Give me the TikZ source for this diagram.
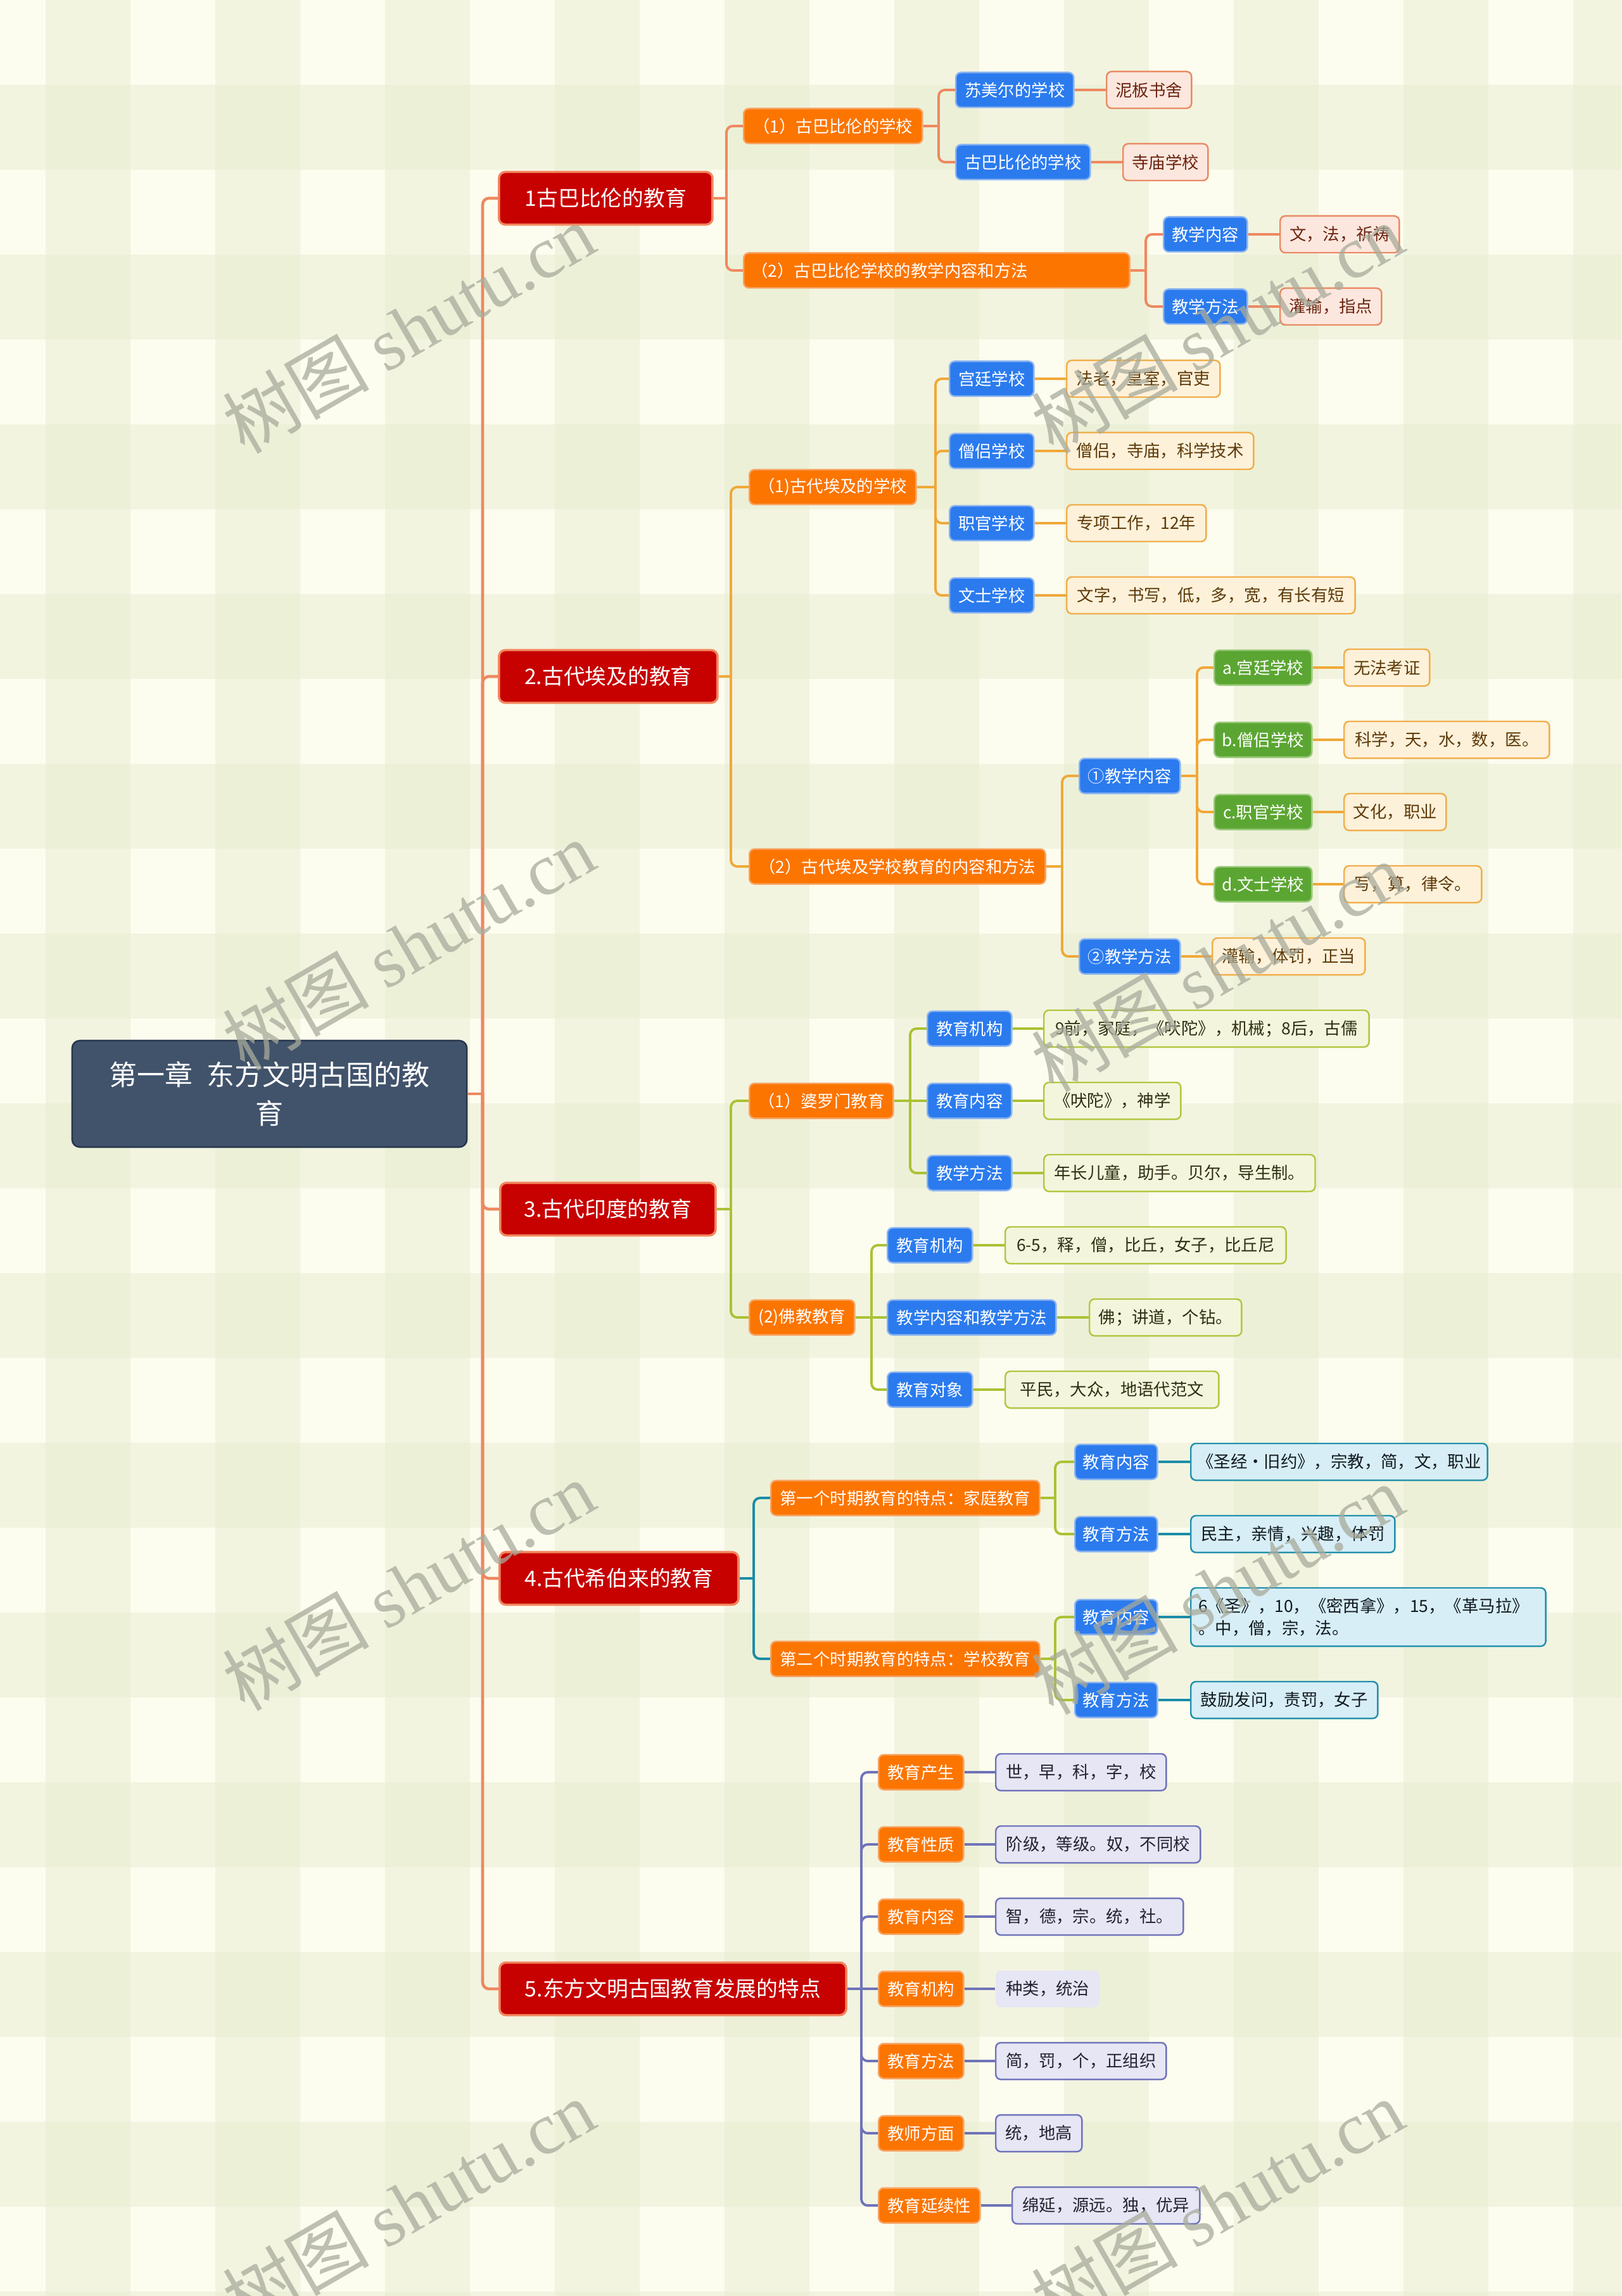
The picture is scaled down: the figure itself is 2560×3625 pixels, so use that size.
\documentclass[tikz,border=0pt]{standalone}
\usepackage{fontspec}
\setmainfont{Noto Sans CJK SC}
\newfontfamily\cjk{Noto Sans CJK SC}
\newfontfamily\wmserif{Liberation Serif}
\definecolor{bgcream}{HTML}{FCFCEF}
\definecolor{bggreen}{HTML}{E4EACB}
\definecolor{rootfill}{HTML}{41536B}
\definecolor{rootline}{HTML}{26354B}
\definecolor{lonefill}{HTML}{C70000}
\definecolor{loneline}{HTML}{F2865E}
\definecolor{orfill}{HTML}{FC7500}
\definecolor{orline}{HTML}{F7A463}
\definecolor{blfill}{HTML}{2B7BEE}
\definecolor{blline}{HTML}{8DB4F0}
\definecolor{grfill}{HTML}{5BA632}
\definecolor{grline}{HTML}{9CCB7C}
\definecolor{babfill}{HTML}{FCE7DE}
\definecolor{babline}{HTML}{E98A63}
\definecolor{babtext}{HTML}{6B2410}
\definecolor{egyfill}{HTML}{FDF1DA}
\definecolor{egyline}{HTML}{F1AE4A}
\definecolor{egytext}{HTML}{5E3A08}
\definecolor{indfill}{HTML}{F3F6DC}
\definecolor{indline}{HTML}{B2C640}
\definecolor{indtext}{HTML}{2E2E12}
\definecolor{hebfill}{HTML}{D7EEF6}
\definecolor{hebline}{HTML}{2290AC}
\definecolor{hebtext}{HTML}{111A20}
\definecolor{eastfill}{HTML}{E6E6F4}
\definecolor{eastline}{HTML}{7074BA}
\definecolor{easttext}{HTML}{222233}
\definecolor{cbabc}{HTML}{EE8860}
\definecolor{cegyc}{HTML}{F0A838}
\definecolor{cindc}{HTML}{ABC233}
\definecolor{chebc}{HTML}{1C8CA8}
\definecolor{ceastc}{HTML}{6F73B8}
\definecolor{wmgray}{HTML}{A8AB9B}
\newcommand\fsroot{\fontsize{12.5pt}{17.4pt}\selectfont}
\newcommand\fsmid{\fontsize{9.6pt}{11pt}\selectfont}
\newcommand\fssmall{\fontsize{7.5pt}{10pt}\selectfont}
\newcommand\fswm{\fontsize{33pt}{38pt}\selectfont}
\tikzset{
  bx/.style={anchor=west, rounded corners=0.08cm, inner xsep=0.1cm, inner ysep=0pt, line width=0.7pt, font=\cjk\fssmall},
  rootbox/.style={bx, anchor=center, fill=rootfill, draw=rootline, text=white, font=\cjk\fsroot, rounded corners=0.12cm, minimum width=6.23cm, minimum height=1.68cm, align=center},
  lonebox/.style={bx, minimum width=#1, minimum height=0.83cm, fill=lonefill, draw=loneline, line width=1pt, text=white, font=\cjk\fsmid, rounded corners=0.1cm},
  ltwobox/.style={bx, minimum width=#1, minimum height=0.55cm, fill=orfill, draw=orline, text=white},
  bluebox/.style={bx, minimum width=#1, minimum height=0.55cm, fill=blfill, draw=blline, text=white},
  greenbox/.style={bx, minimum width=#1, minimum height=0.55cm, fill=grfill, draw=grline, text=white},
  leaf/.style={bx, minimum width=#1, minimum height=0.58cm},
  leafbab/.style={leaf=#1, fill=babfill, draw=babline, text=babtext},
  leafegy/.style={leaf=#1, fill=egyfill, draw=egyline, text=egytext},
  leafind/.style={leaf=#1, fill=indfill, draw=indline, text=indtext},
  leafheb/.style={leaf=#1, fill=hebfill, draw=hebline, text=hebtext},
  leafeast/.style={leaf=#1, fill=eastfill, draw=eastline, text=easttext},
  conn/.style={line width=1.1pt, rounded corners=0.1cm},
  ctrunk/.style={conn, line width=1.3pt, draw=cbabc},
  cbab/.style={conn, draw=cbabc},
  cegy/.style={conn, draw=cegyc},
  cind/.style={conn, draw=cindc},
  cheb/.style={conn, draw=chebc},
  ceast/.style={conn, draw=ceastc},
  wm/.style={rotate=30, text=wmgray, font=\fswm, text opacity=0.75}
}
\begin{document}
\begin{tikzpicture}[x=0.01cm,y=-0.01cm]
\useasboundingbox (0,0) rectangle (2560,3625);
% background plaid
\fill[bgcream] (0,0) rectangle (2560,3625);
\foreach \i in {0,...,9} {\fill[bggreen,opacity=0.4] ({72+268*\i},0) rectangle ({206+268*\i},3625);}
\foreach \j in {0,...,13} {\fill[bggreen,opacity=0.4] (0,{134+268*\j}) rectangle (2560,{268+268*\j});}

% root
\node[rootbox] (root) at (425.5,1727) {第一章\hspace{0.5em}东方文明古国的教\\育};
\coordinate (t0) at (762,1727);

% level 1
\node[lonebox=3.37cm] (n1) at (786,313) {1古巴比伦的教育};
\node[lonebox=3.45cm] (n2) at (786,1068) {2.古代埃及的教育};
\node[lonebox=3.40cm] (n3) at (788,1909) {3.古代印度的教育};
\node[lonebox=3.77cm] (n4) at (787,2492) {4.古代希伯来的教育};
\node[lonebox=5.47cm] (n5) at (787,3140) {5.东方文明古国教育发展的特点};

\draw[ctrunk] (root.east) -- (t0);
\foreach \n in {n1,n2,n3,n4,n5} {\draw[ctrunk] (t0) |- (\n.west);}

% ---------- branch 1 ----------
\coordinate (bn1) at (1147,313);
\node[ltwobox=2.82cm] (a1) at (1173,199) {（1）古巴比伦的学校};
\node[ltwobox=6.09cm, text width=5.85cm, align=left] (a2) at (1173,427) {（2）古巴比伦学校的教学内容和方法};
\draw[cbab] (n1.east) -- (bn1);
\draw[cbab] (bn1) |- (a1.west);
\draw[cbab] (bn1) |- (a2.west);

\coordinate (ba1) at (1482,199);
\node[bluebox=1.86cm] (a1a) at (1508,142) {苏美尔的学校};
\node[bluebox=2.12cm] (a1b) at (1508,256) {古巴比伦的学校};
\draw[cbab] (a1.east) -- (ba1);
\draw[cbab] (ba1) |- (a1a.west);
\draw[cbab] (ba1) |- (a1b.west);
\node[leafbab=1.34cm] (la1a) at (1746,142) {泥板书舍};
\node[leafbab=1.34cm] (la1b) at (1772,256) {寺庙学校};
\draw[cbab] (a1a.east) -- (la1a.west);
\draw[cbab] (a1b.east) -- (la1b.west);

\coordinate (ba2) at (1809,427);
\node[bluebox=1.32cm] (a2a) at (1836,370) {教学内容};
\node[bluebox=1.32cm] (a2b) at (1836,484) {教学方法};
\draw[cbab] (a2.east) -- (ba2);
\draw[cbab] (ba2) |- (a2a.west);
\draw[cbab] (ba2) |- (a2b.west);
\node[leafbab=1.88cm] (la2a) at (2020,370) {文，法，祈祷};
\node[leafbab=1.60cm] (la2b) at (2020,484) {灌输，指点};
\draw[cbab] (a2a.east) -- (la2a.west);
\draw[cbab] (a2b.east) -- (la2b.west);

% ---------- branch 2 ----------
\coordinate (bn2) at (1154,1068);
\node[ltwobox=2.63cm] (b1) at (1182,769) {（1)古代埃及的学校};
\node[ltwobox=4.67cm] (b2) at (1182,1368) {（2）古代埃及学校教育的内容和方法};
\draw[cegy] (n2.east) -- (bn2);
\draw[cegy] (bn2) |- (b1.west);
\draw[cegy] (bn2) |- (b2.west);

\coordinate (bb1) at (1477,769);
\node[bluebox=1.33cm] (b1a) at (1498,598) {宫廷学校};
\node[bluebox=1.33cm] (b1b) at (1498,712) {僧侣学校};
\node[bluebox=1.33cm] (b1c) at (1498,826) {职官学校};
\node[bluebox=1.33cm] (b1d) at (1498,940) {文士学校};
\draw[cegy] (b1.east) -- (bb1);
\foreach \c in {b1a,b1b,b1c,b1d} {\draw[cegy] (bb1) |- (\c.west);}
\node[leafegy=2.42cm] (lb1a) at (1683,598) {法老，皇室，官吏};
\node[leafegy=2.95cm] (lb1b) at (1683,712) {僧侣，寺庙，科学技术};
\node[leafegy=2.20cm] (lb1c) at (1683,826) {专项工作，12年};
\node[leafegy=4.55cm] (lb1d) at (1683,940) {文字，书写，低，多，宽，有长有短};
\draw[cegy] (b1a.east) -- (lb1a.west);
\draw[cegy] (b1b.east) -- (lb1b.west);
\draw[cegy] (b1c.east) -- (lb1c.west);
\draw[cegy] (b1d.east) -- (lb1d.west);

\coordinate (bb2) at (1677,1368);
\node[bluebox=1.59cm] (b2a) at (1703,1225) {①教学内容};
\node[bluebox=1.59cm] (b2b) at (1703,1510) {②教学方法};
\draw[cegy] (b2.east) -- (bb2);
\draw[cegy] (bb2) |- (b2a.west);
\draw[cegy] (bb2) |- (b2b.west);

\coordinate (bg) at (1890,1225);
\node[greenbox=1.54cm] (g1) at (1916,1054) {a.宫廷学校};
\node[greenbox=1.54cm] (g2) at (1916,1168) {b.僧侣学校};
\node[greenbox=1.54cm] (g3) at (1916,1282) {c.职官学校};
\node[greenbox=1.54cm] (g4) at (1916,1396) {d.文士学校};
\draw[cegy] (b2a.east) -- (bg);
\foreach \c in {g1,g2,g3,g4} {\draw[cegy] (bg) |- (\c.west);}
\node[leafegy=1.35cm] (lg1) at (2121,1054) {无法考证};
\node[leafegy=3.24cm] (lg2) at (2121,1168) {科学，天，水，数，医。};
\node[leafegy=1.61cm] (lg3) at (2121,1282) {文化，职业};
\node[leafegy=2.17cm] (lg4) at (2121,1396) {写，算，律令。};
\draw[cegy] (g1.east) -- (lg1.west);
\draw[cegy] (g2.east) -- (lg2.west);
\draw[cegy] (g3.east) -- (lg3.west);
\draw[cegy] (g4.east) -- (lg4.west);
\node[leafegy=2.41cm] (lb2b) at (1913,1510) {灌输，体罚，正当};
\draw[cegy] (b2b.east) -- (lb2b.west);

% ---------- branch 3 ----------
\coordinate (bn3) at (1154,1909);
\node[ltwobox=2.27cm] (c1) at (1182,1738) {（1）婆罗门教育};
\node[ltwobox=1.66cm] (c2) at (1182,2080) {(2)佛教教育};
\draw[cind] (n3.east) -- (bn3);
\draw[cind] (bn3) |- (c1.west);
\draw[cind] (bn3) |- (c2.west);

\coordinate (bc1) at (1437,1738);
\node[bluebox=1.33cm] (c1a) at (1463,1624) {教育机构};
\node[bluebox=1.33cm] (c1b) at (1463,1738) {教育内容};
\node[bluebox=1.33cm] (c1c) at (1463,1852) {教学方法};
\draw[cind] (c1.east) -- (c1b.west);
\draw[cind] (bc1) |- (c1a.west);
\draw[cind] (bc1) |- (c1c.west);
\node[leafind=5.13cm] (lc1a) at (1647,1624) {9前，家庭，《吠陀》，机械；8后，古儒};
\node[leafind=2.16cm] (lc1b) at (1647,1738) {《吠陀》，神学};
\node[leafind=4.28cm] (lc1c) at (1647,1852) {年长儿童，助手。贝尔，导生制。};
\draw[cind] (c1a.east) -- (lc1a.west);
\draw[cind] (c1b.east) -- (lc1b.west);
\draw[cind] (c1c.east) -- (lc1c.west);

\coordinate (bc2) at (1376,2080);
\node[bluebox=1.34cm] (c2a) at (1400,1966) {教育机构};
\node[bluebox=2.66cm] (c2b) at (1400,2080) {教学内容和教学方法};
\node[bluebox=1.34cm] (c2c) at (1400,2194) {教育对象};
\draw[cind] (c2.east) -- (c2b.west);
\draw[cind] (bc2) |- (c2a.west);
\draw[cind] (bc2) |- (c2c.west);
\node[leafind=4.43cm] (lc2a) at (1586,1966) {6-5，释，僧，比丘，女子，比丘尼};
\node[leafind=2.40cm] (lc2b) at (1719,2080) {佛；讲道，个钻。};
\node[leafind=3.37cm] (lc2c) at (1586,2194) {平民，大众，地语代范文};
\draw[cind] (c2a.east) -- (lc2a.west);
\draw[cind] (c2b.east) -- (lc2b.west);
\draw[cind] (c2c.east) -- (lc2c.west);

% ---------- branch 4 ----------
\coordinate (bn4) at (1190,2492);
\node[ltwobox=4.24cm] (d1) at (1216,2365) {第一个时期教育的特点：家庭教育};
\node[ltwobox=4.24cm] (d2) at (1216,2619) {第二个时期教育的特点：学校教育};
\draw[cheb] (n4.east) -- (bn4);
\draw[cheb] (bn4) |- (d1.west);
\draw[cheb] (bn4) |- (d2.west);

\coordinate (bd1) at (1666,2365);
\node[bluebox=1.30cm] (d1a) at (1696,2308) {教育内容};
\node[bluebox=1.30cm] (d1b) at (1696,2422) {教育方法};
\draw[cind] (d1.east) -- (bd1);
\draw[cind] (bd1) |- (d1a.west);
\draw[cind] (bd1) |- (d1b.west);
\node[leafheb=4.66cm] (ld1a) at (1879,2308) {《圣经•旧约》，宗教，简，文，职业};
\node[leafheb=3.22cm] (ld1b) at (1879,2422) {民主，亲情，兴趣，体罚};
\draw[cheb] (d1a.east) -- (ld1a.west);
\draw[cheb] (d1b.east) -- (ld1b.west);

\coordinate (bd2) at (1666,2619);
\node[bluebox=1.30cm] (d2a) at (1696,2553) {教育内容};
\node[bluebox=1.30cm] (d2b) at (1696,2684) {教育方法};
\draw[cind] (d2.east) -- (bd2);
\draw[cind] (bd2) |- (d2a.west);
\draw[cind] (bd2) |- (d2b.west);
\node[leafheb=5.60cm, minimum height=0.92cm, text width=5.36cm, align=left] (ld2a) at (1879,2553) {6《圣》，10，《密西拿》，15，《革马拉》\\。中，僧，宗，法。};
\node[leafheb=2.95cm] (ld2b) at (1879,2684) {鼓励发问，责罚，女子};
\draw[cheb] (d2a.east) -- (ld2a.west);
\draw[cheb] (d2b.east) -- (ld2b.west);

% ---------- branch 5 ----------
\coordinate (bn5) at (1360,3140);
\node[ltwobox=1.34cm] (e1) at (1386,2798) {教育产生};
\node[ltwobox=1.34cm] (e2) at (1386,2912) {教育性质};
\node[ltwobox=1.34cm] (e3) at (1386,3026) {教育内容};
\node[ltwobox=1.34cm] (e4) at (1386,3140) {教育机构};
\node[ltwobox=1.34cm] (e5) at (1386,3254) {教育方法};
\node[ltwobox=1.34cm] (e6) at (1386,3368) {教师方面};
\node[ltwobox=1.60cm] (e7) at (1386,3482) {教育延续性};
\draw[ceast] (n5.east) -- (e4.west);
\foreach \c in {e1,e2,e3,e5,e6,e7} {\draw[ceast] (bn5) |- (\c.west);}
\node[leafeast=2.69cm] (le1) at (1571,2798) {世，早，科，字，校};
\node[leafeast=3.23cm] (le2) at (1571,2912) {阶级，等级。奴，不同校};
\node[leafeast=2.96cm] (le3) at (1571,3026) {智，德，宗。统，社。};
\node[leafeast=1.64cm, draw=none] (le4) at (1571,3140) {种类，统治};
\node[leafeast=2.69cm] (le5) at (1571,3254) {简，罚，个，正组织};
\node[leafeast=1.36cm] (le6) at (1571,3368) {统，地高};
\node[leafeast=2.96cm] (le7) at (1597,3482) {绵延，源远。独，优异};
\draw[ceast] (e1.east) -- (le1.west);
\draw[ceast] (e2.east) -- (le2.west);
\draw[ceast] (e3.east) -- (le3.west);
\draw[ceast] (e4.east) -- (le4.west);
\draw[ceast] (e5.east) -- (le5.west);
\draw[ceast] (e6.east) -- (le6.west);
\draw[ceast] (e7.east) -- (le7.west);

% watermarks
\node[wm] (w1) at (645,518) {{\cjk 树图} {\wmserif shutu.cn}};
\node[wm] (w2) at (645,1492) {{\cjk 树图} {\wmserif shutu.cn}};
\node[wm] (w3) at (645,2503) {{\cjk 树图} {\wmserif shutu.cn}};
\node[wm] (w4) at (645,3480) {{\cjk 树图} {\wmserif shutu.cn}};
\node[wm] (w5) at (1922,518) {{\cjk 树图} {\wmserif shutu.cn}};
\node[wm] (w6) at (1922,1526) {{\cjk 树图} {\wmserif shutu.cn}};
\node[wm] (w7) at (1922,2509) {{\cjk 树图} {\wmserif shutu.cn}};
\node[wm] (w8) at (1922,3480) {{\cjk 树图} {\wmserif shutu.cn}};
\end{tikzpicture}
\end{document}
